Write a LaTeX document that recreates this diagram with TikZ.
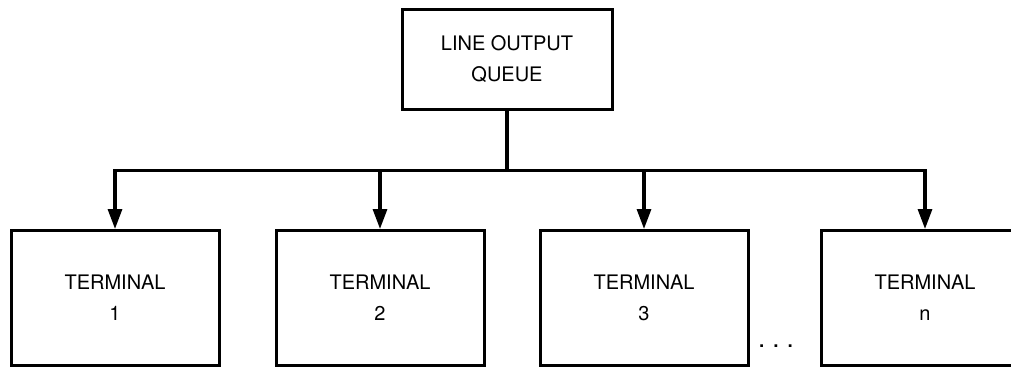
\documentclass[tikz,border=0pt]{standalone}
\usepackage{fontspec}
\setmainfont{TeX Gyre Heros}
\usetikzlibrary{arrows.meta,positioning}

\begin{document}
\begin{tikzpicture}[x=1pt, y=1pt,
  box/.style={rectangle, draw, line width=3pt,
              minimum width=#1, minimum height=135pt,
              align=center, inner sep=2pt,
              font=\fontsize{20}{31}\selectfont},
  box/.default=208pt,
  line/.style={line width=3.2pt},
  arrow/.style={line, -{Triangle[length=20pt, width=14pt]}},
  node distance=54pt
]
  \useasboundingbox (0,0) rectangle (1011,368);
  \clip (0,0) rectangle (1011,368);

  % ── queue ──
  \node[box=210pt, minimum height=100pt] (queue) at (507,309) {LINE OUTPUT\\QUEUE};

  % ── terminals ──
  \node[box] (term1) at (115,70) {TERMINAL\\1};
  \node[box, right=54pt of term1] (term2) {TERMINAL\\2};
  \node[box, right=53pt of term2] (term3) {TERMINAL\\3};
  \node[box, right=70pt of term3] (termn) {TERMINAL\\n};
  \node[anchor=base, font=\fontsize{26}{30}\selectfont] (dots) at (776,21)
       {.\hspace{7pt}.\hspace{7pt}.};

  % ── bus ──
  \draw[line] (queue.south) -- ++(0,-60) coordinate (bus);
  \draw[arrow] (bus) -| (term1.north);
  \draw[arrow] (bus) -| (termn.north);
  \draw[arrow] (bus -| term2.north) -- (term2.north);
  \draw[arrow] (bus -| term3.north) -- (term3.north);
\end{tikzpicture}
\end{document}
